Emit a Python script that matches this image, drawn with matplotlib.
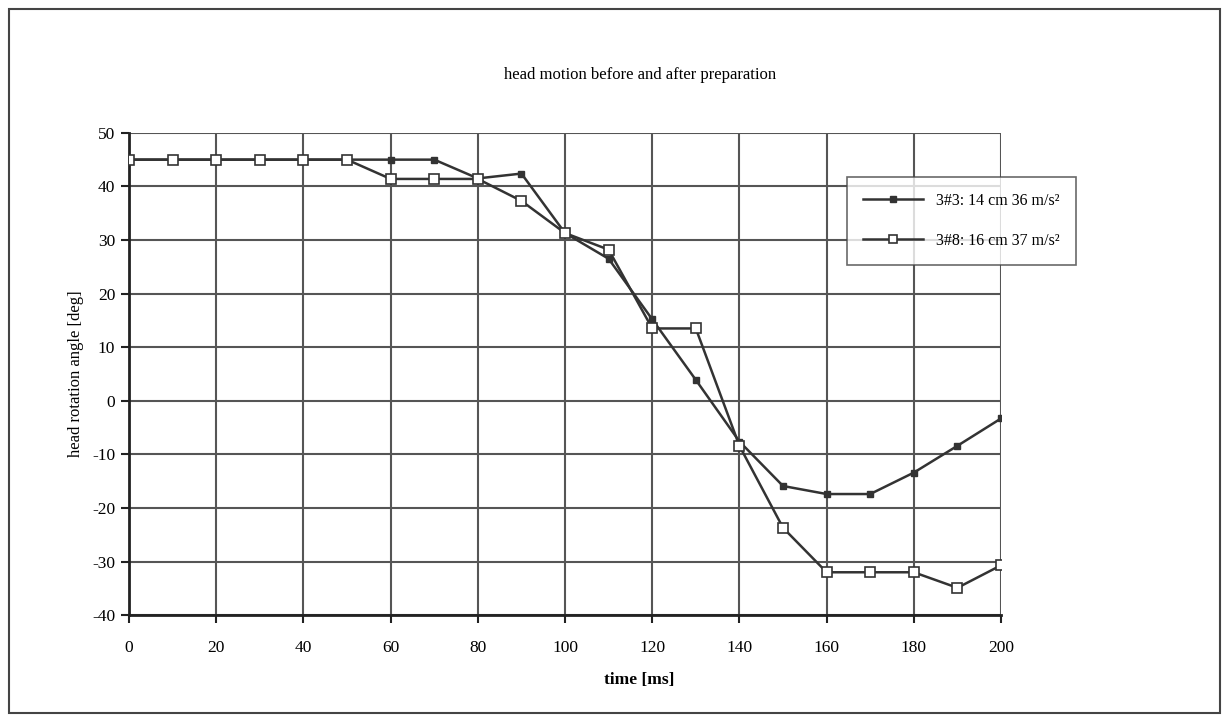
import matplotlib.pyplot as plt
from matplotlib.patches import Rectangle

# data
time_ms = [0, 10, 20, 30, 40, 50, 60, 70, 80, 90, 100,
           110, 120, 130, 140, 150, 160, 170, 180, 190, 200]
angle_3_3 = [45, 45, 45, 45, 45, 45, 45, 45, 41.5, 42.4, 31.3,
             26.5, 15.2, 3.9, -7.6, -15.9, -17.4, -17.4, -13.4, -8.4, -3.3]
angle_3_8 = [45, 45, 45, 45, 45, 45, 41.4, 41.4, 41.4, 37.3, 31.3,
             28.2, 13.5, 13.5, -8.4, -23.7, -32.0, -32.0, -32.0, -34.9, -30.7]
label_3_3 = "3#3: 14 cm 36 m/s²"
label_3_8 = "3#8: 16 cm 37 m/s²"

plt.rcParams['font.family'] = ['Liberation Serif', 'DejaVu Serif']
plt.rcParams['axes.unicode_minus'] = False

fig = plt.figure(figsize=(12.29, 7.22), dpi=100)
ax = fig.add_axes([0.105, 0.148, 0.7095, 0.668])

# outer frame around the whole chart
fig.patches.append(Rectangle((0.007, 0.013), 0.986, 0.975, transform=fig.transFigure,
                             fill=False, edgecolor='#444444', linewidth=1.5))

ax.plot(time_ms, angle_3_3, color='#333333', linewidth=1.8, marker='s',
        markersize=5, markerfacecolor='#333333', markeredgecolor='#333333',
        label=label_3_3, zorder=3)
ax.plot(time_ms, angle_3_8, color='#333333', linewidth=1.8, marker='s',
        markersize=7, markerfacecolor='white', markeredgecolor='#333333',
        markeredgewidth=1.2, label=label_3_8, zorder=4)

ax.set_xlim(0, 200)
ax.set_ylim(-40, 50)
ax.set_xticks(range(0, 201, 20))
ax.set_yticks(range(-40, 51, 10))
ax.grid(True, color='#555555', linewidth=1.5)
ax.set_axisbelow(True)

for side in ['top', 'right']:
    ax.spines[side].set_visible(False)
for side in ['left', 'bottom']:
    ax.spines[side].set_linewidth(2)
    ax.spines[side].set_color('#222222')

ax.tick_params(axis='both', direction='out', length=6, width=1.5,
               color='#222222', labelsize=12.5)
ax.tick_params(axis='y', pad=4)
ax.tick_params(axis='x', pad=12)

fig.text(0.521, 0.896, "head motion before and after preparation",
         fontsize=12, ha='center', va='center')
fig.text(0.52, 0.058, "time [ms]", fontsize=12.5, fontweight='bold',
         ha='center', va='center')
ax.set_ylabel("head rotation angle [deg]", fontsize=12, labelpad=6)

leg = ax.legend(loc='upper left', bbox_to_anchor=(0.823, 0.909), fontsize=11.5,
                frameon=True, fancybox=False, edgecolor='#444444',
                handlelength=3.8, borderpad=1.0, labelspacing=1.5,
                borderaxespad=0, markerscale=0.8)
leg.get_frame().set_linewidth(1.2)

fig.savefig("out.png", dpi=100)
